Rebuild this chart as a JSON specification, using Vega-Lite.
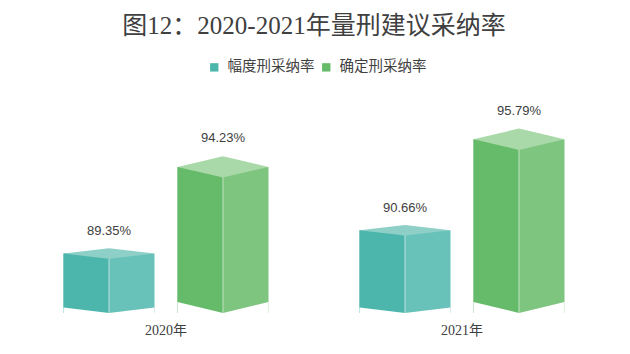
{
  "$schema": "https://vega.github.io/schema/vega-lite/v6.json",
  "autosize": "none",
  "width": 592,
  "height": 213,
  "padding": {"left": 18, "top": 100, "right": 20, "bottom": 41},
  "background": "white",
  "title": {
    "text": "图12：2020-2021年量刑建议采纳率",
    "font": "Liberation Serif, Noto Sans CJK SC",
    "fontSize": 25,
    "fontWeight": "normal",
    "color": "#404040",
    "anchor": "middle",
    "offset": 21
  },
  "data": {
    "values": [
      {"year": "2020年", "series": "幅度刑采纳率", "value": 0.8935},
      {"year": "2020年", "series": "确定刑采纳率", "value": 0.9423},
      {"year": "2021年", "series": "幅度刑采纳率", "value": 0.9066},
      {"year": "2021年", "series": "确定刑采纳率", "value": 0.9579}
    ]
  },
  "encoding": {
    "x": {
      "field": "year",
      "type": "nominal",
      "scale": {"paddingInner": 0, "paddingOuter": 0},
      "axis": {"title": null, "labelAngle": 0, "domain": false, "ticks": false, "labelPadding": 10,
        "labelFont": "Liberation Serif, Noto Sans CJK SC", "labelFontSize": 14, "labelColor": "#404040"}
    }
  },
  "layer": [
    {
      "transform": [{"filter": "datum.series === '幅度刑采纳率'"}],
      "mark": {"type": "bar", "size": 91, "xOffset": -57, "fill": "#69C2B9"},
      "encoding": {
        "y": {"field": "value", "type": "quantitative", "scale": {"domain": [0.86, 0.98], "zero": false, "nice": false}, "axis": null},
        "y2": {"datum": 0.86}
      }
    },
    {
      "transform": [{"filter": "datum.series === '幅度刑采纳率'"}],
      "mark": {"type": "bar", "size": 45.5, "xOffset": -79.75},
      "encoding": {
        "y": {"field": "value", "type": "quantitative"},
        "y2": {"datum": 0.86},
        "color": {"field": "series", "type": "nominal",
          "scale": {"domain": ["幅度刑采纳率", "确定刑采纳率"], "range": ["#4DB6AC", "#66BB6A"]},
          "legend": {"title": null}}
      }
    },
    {
      "transform": [{"filter": "datum.series === '确定刑采纳率'"}],
      "mark": {"type": "bar", "size": 91, "xOffset": 57, "fill": "#7EC580"},
      "encoding": {
        "y": {"field": "value", "type": "quantitative"},
        "y2": {"datum": 0.86}
      }
    },
    {
      "transform": [{"filter": "datum.series === '确定刑采纳率'"}],
      "mark": {"type": "bar", "size": 45.5, "xOffset": 34.25},
      "encoding": {
        "y": {"field": "value", "type": "quantitative"},
        "y2": {"datum": 0.86},
        "color": {"field": "series", "type": "nominal"}
      }
    },
    {
      "transform": [{"filter": "datum.series === '幅度刑采纳率'"}],
      "mark": {"type": "rule", "xOffset": -57, "stroke": "#B8E3DE", "strokeWidth": 1},
      "encoding": {"y": {"field": "value", "type": "quantitative"}, "y2": {"datum": 0.86}}
    },
    {
      "transform": [{"filter": "datum.series === '确定刑采纳率'"}],
      "mark": {"type": "rule", "xOffset": 57, "stroke": "#BFE3C0", "strokeWidth": 1},
      "encoding": {"y": {"field": "value", "type": "quantitative"}, "y2": {"datum": 0.86}}
    },
    {
      "transform": [{"filter": "datum.series === '幅度刑采纳率'"}],
      "mark": {"type": "point", "filled": true, "opacity": 1, "strokeWidth": 0, "fill": "white", "size": 8281,
        "shape": "M-1,0.02L-1,-0.12L0,0L1,-0.12L1,0.02Z", "xOffset": -57},
      "encoding": {"y": {"datum": 0.86}}
    },
    {
      "transform": [{"filter": "datum.series === '确定刑采纳率'"}],
      "mark": {"type": "point", "filled": true, "opacity": 1, "strokeWidth": 0, "fill": "white", "size": 8281,
        "shape": "M-1,0.02L-1,-0.24L0,0L1,-0.24L1,0.02Z", "xOffset": 57},
      "encoding": {"y": {"datum": 0.86}}
    },
    {
      "transform": [{"filter": "datum.series === '幅度刑采纳率'"}],
      "mark": {"type": "point", "filled": true, "opacity": 1, "strokeWidth": 0, "fill": "#8ED0C8", "size": 8281,
        "shape": "M-1,0L0,-0.115L1,0L0,0.115Z", "xOffset": -57},
      "encoding": {"y": {"field": "value", "type": "quantitative"}}
    },
    {
      "transform": [{"filter": "datum.series === '确定刑采纳率'"}],
      "mark": {"type": "point", "filled": true, "opacity": 1, "strokeWidth": 0, "fill": "#A9D9A9", "size": 8281,
        "shape": "M-1,0L0,-0.235L1,0L0,0.235Z", "xOffset": 57},
      "encoding": {"y": {"field": "value", "type": "quantitative"}}
    },
    {
      "transform": [{"filter": "datum.series === '幅度刑采纳率'"}],
      "mark": {"type": "text", "xOffset": -57, "dy": -22.5, "baseline": "middle", "font": "Liberation Sans", "fontSize": 13, "color": "#404040"},
      "encoding": {"y": {"field": "value", "type": "quantitative"}, "text": {"field": "value", "type": "quantitative", "format": ".2%"}}
    },
    {
      "transform": [{"filter": "datum.series === '确定刑采纳率'"}],
      "mark": {"type": "text", "xOffset": 57, "dy": -28.5, "baseline": "middle", "font": "Liberation Sans", "fontSize": 13, "color": "#404040"},
      "encoding": {"y": {"field": "value", "type": "quantitative"}, "text": {"field": "value", "type": "quantitative", "format": ".2%"}}
    }
  ],
  "config": {
    "view": {"stroke": null},
    "legend": {
      "orient": "none",
      "legendX": 189,
      "legendY": -40,
      "direction": "horizontal",
      "symbolType": "square",
      "symbolSize": 70,
      "symbolStrokeWidth": 0,
      "labelFont": "Noto Sans CJK SC",
      "labelFontSize": 14.5,
      "labelColor": "#404040",
      "labelOffset": 6,
      "columnPadding": 4
    }
  }
}
